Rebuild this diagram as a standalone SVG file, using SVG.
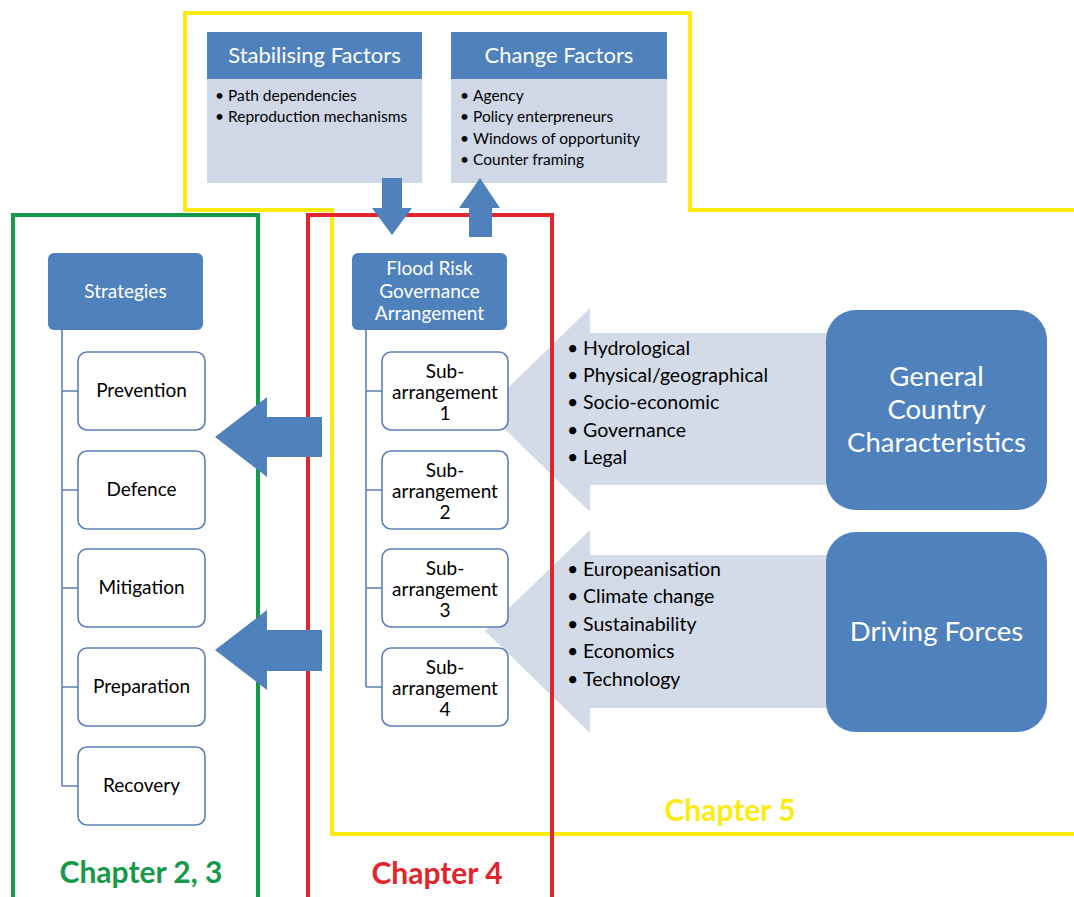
<svg xmlns="http://www.w3.org/2000/svg" width="1074" height="897" viewBox="0 0 1074 897">
<style>
text{font-family:Lato,"Open Sans","Liberation Sans",sans-serif}
.hdr{fill:#4f81bd}
.body{fill:#d0d8e8}
.wt{fill:#fff}
.bk{fill:#000}
.child{fill:#fff;stroke:#5a7fb8;stroke-width:1.6}
.tree{fill:none;stroke:#5a7fb8;stroke-width:1.6}
.garrow{fill:#d3dbe9}
.barrow{fill:#4f81bd}
.ch{font-weight:bold;font-size:30px;text-anchor:middle}
</style>
<rect width="1074" height="897" fill="#fff"/>

<g id="frames">
<polygon points="185,13 690,13 690,210 1080,210 1080,834 332,834 332,210 185,210" fill="none" stroke="#fcea10" stroke-width="4"/>
<rect x="13" y="215" width="245" height="700" fill="none" stroke="#16994a" stroke-width="4"/>
</g>

<g id="grey-arrows">
<polygon class="garrow" points="485,410 590,308 590,333 900,333 900,485 590,485 590,512"/>
<polygon class="garrow" points="485,631 590,530 590,555 900,555 900,708 590,708 590,733"/>
</g>

<g id="stabilising">
<rect class="body" x="207" y="79" width="215" height="104"/>
<rect class="hdr" x="207" y="32" width="215" height="47"/>
<text class="wt" x="314.5" y="63" font-size="22" text-anchor="middle">Stabilising Factors</text>
<text class="bk" font-size="15.5"><tspan x="215" y="101">•</tspan><tspan x="228" y="101">Path dependencies</tspan><tspan x="215" y="122">•</tspan><tspan x="228" y="122">Reproduction mechanisms</tspan></text>
</g>

<g id="change">
<rect class="body" x="451" y="79" width="216" height="104"/>
<rect class="hdr" x="451" y="32" width="216" height="47"/>
<text class="wt" x="559" y="63" font-size="22" text-anchor="middle">Change Factors</text>
<text class="bk" font-size="15.5"><tspan x="460" y="101">•</tspan><tspan x="473" y="101">Agency</tspan><tspan x="460" y="122">•</tspan><tspan x="473" y="122">Policy enterpreneurs</tspan><tspan x="460" y="144">•</tspan><tspan x="473" y="144">Windows of opportunity</tspan><tspan x="460" y="165">•</tspan><tspan x="473" y="165">Counter framing</tspan></text>
</g>

<g id="connectors">
<path class="tree" d="M62,330 V786 M62,391 H78 M62,490 H78 M62,588 H78 M62,687 H78 M62,786 H78"/>
<path class="tree" d="M366,330 V687 M366,391 H382 M366,490 H382 M366,588 H382 M366,687 H382"/>
</g>

<g id="strategies">
<rect class="hdr" x="48" y="253" width="155" height="77" rx="6"/>
<text class="wt" x="125.5" y="298" font-size="19" text-anchor="middle">Strategies</text>
</g>
<g id="prevention"><rect class="child" x="78" y="352" width="127" height="78" rx="9"/><text class="bk" x="141.5" y="397" font-size="19" text-anchor="middle">Prevention</text></g>
<g id="defence"><rect class="child" x="78" y="451" width="127" height="78" rx="9"/><text class="bk" x="141.5" y="496" font-size="19" text-anchor="middle">Defence</text></g>
<g id="mitigation"><rect class="child" x="78" y="549" width="127" height="78" rx="9"/><text class="bk" x="141.5" y="594" font-size="19" text-anchor="middle">Mitigation</text></g>
<g id="preparation"><rect class="child" x="78" y="648" width="127" height="78" rx="9"/><text class="bk" x="141.5" y="693" font-size="19" text-anchor="middle">Preparation</text></g>
<g id="recovery"><rect class="child" x="78" y="747" width="127" height="78" rx="9"/><text class="bk" x="141.5" y="792" font-size="19" text-anchor="middle">Recovery</text></g>

<g id="frga">
<rect class="hdr" x="352" y="253" width="155" height="77" rx="6"/>
<text class="wt" font-size="19" text-anchor="middle"><tspan x="429.5" y="275">Flood Risk</tspan><tspan x="429.5" y="298">Governance</tspan><tspan x="429.5" y="320">Arrangement</tspan></text>
</g>
<g id="sub1"><rect class="child" x="382" y="352" width="126" height="78" rx="9"/><text class="bk" font-size="19" text-anchor="middle"><tspan x="445" y="378">Sub-</tspan><tspan x="445" y="399">arrangement</tspan><tspan x="445" y="420">1</tspan></text></g>
<g id="sub2"><rect class="child" x="382" y="451" width="126" height="78" rx="9"/><text class="bk" font-size="19" text-anchor="middle"><tspan x="445" y="477">Sub-</tspan><tspan x="445" y="498">arrangement</tspan><tspan x="445" y="519">2</tspan></text></g>
<g id="sub3"><rect class="child" x="382" y="549" width="126" height="78" rx="9"/><text class="bk" font-size="19" text-anchor="middle"><tspan x="445" y="575">Sub-</tspan><tspan x="445" y="596">arrangement</tspan><tspan x="445" y="617">3</tspan></text></g>
<g id="sub4"><rect class="child" x="382" y="648" width="126" height="78" rx="9"/><text class="bk" font-size="19" text-anchor="middle"><tspan x="445" y="674">Sub-</tspan><tspan x="445" y="695">arrangement</tspan><tspan x="445" y="716">4</tspan></text></g>

<g id="red-frame">
<rect x="308" y="215" width="244" height="700" fill="none" stroke="#e0262b" stroke-width="4"/>
</g>

<g id="characteristics-list">
<text class="bk" font-size="19.5"><tspan x="567" y="355">•</tspan><tspan x="583" y="355">Hydrological</tspan><tspan x="567" y="382">•</tspan><tspan x="583" y="382">Physical/geographical</tspan><tspan x="567" y="409">•</tspan><tspan x="583" y="409">Socio-economic</tspan><tspan x="567" y="437">•</tspan><tspan x="583" y="437">Governance</tspan><tspan x="567" y="464">•</tspan><tspan x="583" y="464">Legal</tspan></text>
</g>
<g id="forces-list">
<text class="bk" font-size="19.5"><tspan x="567" y="576">•</tspan><tspan x="583" y="576">Europeanisation</tspan><tspan x="567" y="603">•</tspan><tspan x="583" y="603">Climate change</tspan><tspan x="567" y="631">•</tspan><tspan x="583" y="631">Sustainability</tspan><tspan x="567" y="658">•</tspan><tspan x="583" y="658">Economics</tspan><tspan x="567" y="686">•</tspan><tspan x="583" y="686">Technology</tspan></text>
</g>

<g id="general-country">
<rect class="hdr" x="826" y="310" width="221" height="200" rx="30"/>
<text class="wt" font-size="27.5" text-anchor="middle"><tspan x="936.5" y="386">General</tspan><tspan x="936.5" y="419">Country</tspan><tspan x="936.5" y="452">Characteristics</tspan></text>
</g>
<g id="driving-forces">
<rect class="hdr" x="826" y="532" width="221" height="200" rx="30"/>
<text class="wt" x="936.5" y="641" font-size="27.5" text-anchor="middle">Driving Forces</text>
</g>

<g id="blue-arrows">
<polygon class="barrow" points="382,178 402,178 402,208 412,208 392,235 372,208 382,208"/>
<polygon class="barrow" points="480,178 500,208 492,208 492,237 469,237 469,208 459,208"/>
<polygon class="barrow" points="215,437 267,397 267,417 322,417 322,457 267,457 267,477"/>
<polygon class="barrow" points="215,650 267,610 267,630 322,630 322,671 267,671 267,690"/>
</g>

<g id="labels">
<text class="ch" x="141" y="883" fill="#16994a">Chapter 2, 3</text>
<text class="ch" x="437" y="884" fill="#e0262b">Chapter 4</text>
<text class="ch" x="730" y="821" fill="#fcea10">Chapter 5</text>
</g>
</svg>
